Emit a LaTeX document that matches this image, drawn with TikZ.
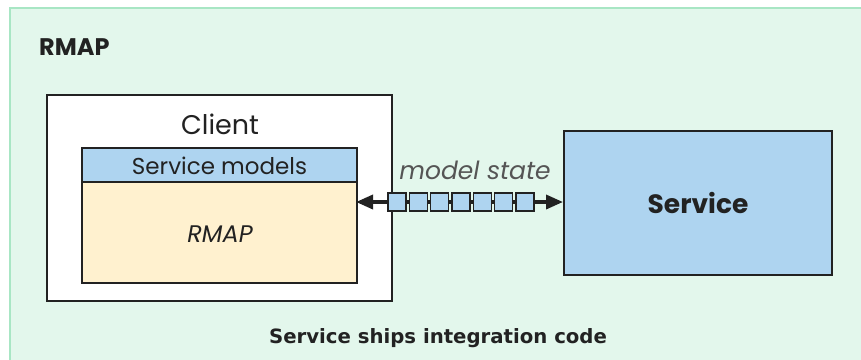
\documentclass[tikz,border=0pt]{standalone}
\usepackage{fontspec}
\setmainfont{Poppins}
\newfontfamily\captionfont{DejaVu Sans}
\usetikzlibrary{arrows.meta}
\definecolor{panelfill}{HTML}{E3F7EC}
\definecolor{panelline}{HTML}{A8E6C4}
\definecolor{modelblue}{HTML}{AED4F0}
\definecolor{coreyellow}{HTML}{FFF1CF}
\definecolor{inkdark}{HTML}{222222}
\definecolor{labelgray}{HTML}{555555}
\begin{document}
\begin{tikzpicture}[x=1pt,y=-1pt,
  box/.style={draw=inkdark,line width=2pt,inner sep=0pt},
  packet/.style={draw=inkdark,line width=1.2pt,fill=modelblue,minimum width=18pt,minimum height=18pt,inner sep=0pt},
  label/.style={text=inkdark,inner sep=0pt}]
\useasboundingbox (0,0) rectangle (861,359);
% background panel, running past the right and bottom edges
\fill[white] (0,0) rectangle (861,359);
\draw[fill=panelfill,draw=panelline,line width=2.5pt] (10,8) rectangle (880,380);
\node[label,anchor=west,font=\bfseries\fontsize{24}{28}\selectfont] (title) at (39,47) {RMAP};
% client box with its layered contents
\draw[box,fill=white] (47,95) rectangle (392,301);
\node[label,font=\fontsize{27}{32}\selectfont] (client) at (220,124) {Client};
\draw[box,fill=modelblue] (82,148) rectangle (357,182);
\node[label,font=\fontsize{23}{28}\selectfont] (models) at (219.5,166) {Service models};
\draw[box,fill=coreyellow] (82,182) rectangle (357,283);
\node[label,font=\itshape\fontsize{24}{28}\selectfont] (core) at (220,234) {RMAP};
\coordinate (coreedge) at (356,202);
% service box
\node[box,fill=modelblue,minimum width=268pt,minimum height=144pt,font=\bfseries\fontsize{26.5}{30}\selectfont,text=inkdark] (service) at (698,203) {Service};
% state transfer channel
\draw[line width=3.5pt,draw=inkdark,{Stealth[length=17pt,width=14pt,inset=0pt]}-{Stealth[length=17pt,width=14pt,inset=0pt]}] (coreedge) -- (service.west |- coreedge);
\foreach \i in {0,...,6} {
  \node[packet] (p\i) at (397+21.33*\i,202) {};
}
\node[text=labelgray,inner sep=0pt,font=\itshape\fontsize{25}{28}\selectfont] (state) at (475,170) {model state};
\node[label,font=\captionfont\bfseries\fontsize{19.7}{23}\selectfont] (caption) at (438,338) {Service ships integration code};
\end{tikzpicture}
\end{document}
